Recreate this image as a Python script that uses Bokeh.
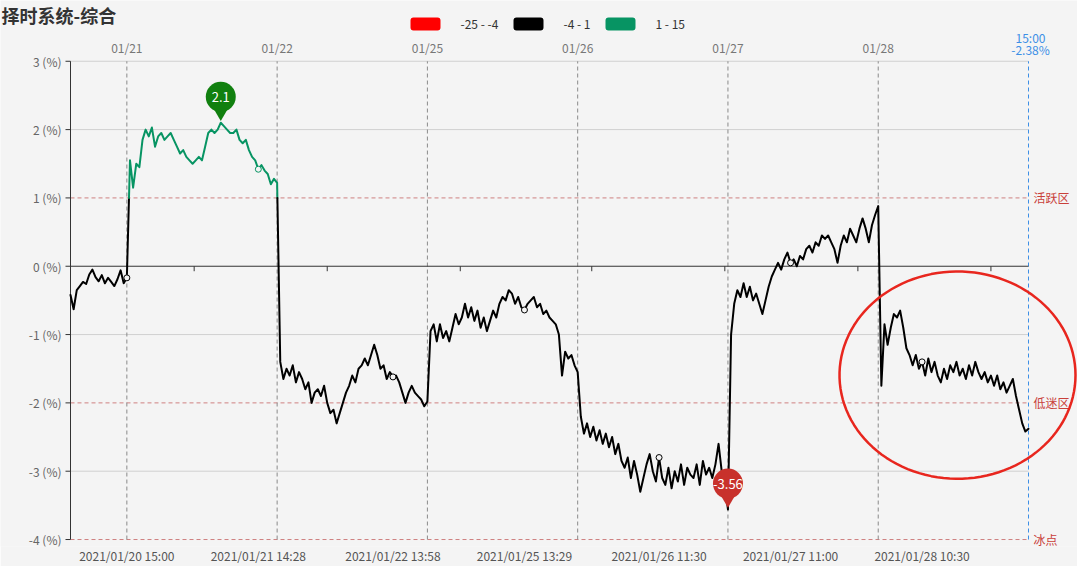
import numpy as np
from bokeh.plotting import figure
from bokeh.models import (Range1d, FixedTicker, PolyAnnotation, BoxAnnotation)
from bokeh.embed import file_html
from bokeh.resources import INLINE
from bokeh.core.properties import value

# ---------------- data ----------------
title_text = "择时系统-综合"
legend_texts = ["-25 - -4", "-4 - 1", "1 - 15"]
legend_colors = ["#ff0000", "#000000", "#079463"]
piece_bounds = [(-25, -4), (-4, 1), (1, 15)]
day_labels = ["01/21", "01/22", "01/25", "01/26", "01/27", "01/28"]
end_time = "15:00"
bottom_labels = ["2021/01/20 15:00", "2021/01/21 14:28", "2021/01/22 13:58",
                 "2021/01/25 13:29", "2021/01/26 11:30", "2021/01/27 11:00",
                 "2021/01/28 10:30"]
bottom_tick_idx = [18, 60, 103, 145, 188, 230, 272]
zero_tick_idx = [39.5, 82, 124.5, 166.5, 209, 251.5, 294]
zone_levels = [1, -2, -4]
zone_names = ["活跃区", "低迷区", "冰点"]
y_ticks = [3, 2, 1, 0, -1, -2, -3, -4]
grid_levels = [3, 2, -1, -3]

day_0120 = [-0.42, -0.63, -0.35, -0.29, -0.23, -0.26, -0.12, -0.05, -0.16, -0.22,
            -0.13, -0.25, -0.17, -0.23, -0.29, -0.19, -0.06, -0.25, -0.17]
day_0121 = [1.55, 1.15, 1.5, 1.45, 1.85, 2.0, 1.9, 2.03, 1.75, 1.9,
            1.95, 1.85, 1.9, 1.95, 1.85, 1.75, 1.65, 1.7, 1.6, 1.55,
            1.5, 1.55, 1.6, 1.55, 1.75, 1.95, 2.0, 1.95, 2.0, 2.1,
            2.05, 2.0, 1.95, 1.95, 2.0, 1.85, 1.8, 1.85, 1.7, 1.6,
            1.55, 1.42, 1.48, 1.4, 1.35, 1.2, 1.28, 1.22]
day_0122 = [-1.4, -1.65, -1.5, -1.6, -1.45, -1.7, -1.55, -1.65, -1.8, -1.7,
            -2.0, -1.85, -1.8, -1.9, -1.75, -2.0, -2.15, -2.1, -2.3, -2.15,
            -2.0, -1.85, -1.75, -1.6, -1.7, -1.5, -1.45, -1.35, -1.45, -1.3,
            -1.15, -1.3, -1.5, -1.45, -1.65, -1.55, -1.62, -1.6, -1.7, -1.85,
            -2.0, -1.85, -1.75, -1.85, -1.9, -1.95, -2.05, -1.98]
day_0125 = [-0.95, -0.85, -1.1, -0.85, -1.05, -0.95, -1.1, -0.9, -0.7, -0.85,
            -0.75, -0.55, -0.75, -0.6, -0.8, -0.65, -0.9, -0.75, -0.95, -0.8,
            -0.65, -0.75, -0.55, -0.45, -0.5, -0.35, -0.4, -0.55, -0.45, -0.6,
            -0.64, -0.55, -0.5, -0.45, -0.6, -0.55, -0.7, -0.65, -0.75, -0.8,
            -0.85, -1.0, -1.6, -1.25, -1.35, -1.3, -1.45, -1.55]
day_0126 = [-2.2, -2.45, -2.3, -2.5, -2.35, -2.55, -2.4, -2.6, -2.45, -2.65,
            -2.5, -2.75, -2.6, -2.85, -2.95, -2.8, -3.1, -2.85, -3.05, -3.3,
            -3.1, -2.9, -2.75, -3.0, -3.15, -2.8, -3.1, -3.2, -2.95, -3.25,
            -3.0, -3.15, -2.9, -3.2, -2.95, -3.05, -3.1, -2.9, -3.2, -2.85,
            -3.05, -2.95, -3.1, -2.9, -2.6, -3.0, -3.2, -3.56]
day_0127 = [-1.0, -0.55, -0.35, -0.45, -0.25, -0.45, -0.3, -0.5, -0.4, -0.55,
            -0.7, -0.5, -0.3, -0.15, -0.05, 0.05, -0.05, 0.1, 0.2, 0.05,
            0.1, 0.0, 0.15, 0.1, 0.25, 0.3, 0.2, 0.35, 0.3, 0.45,
            0.4, 0.45, 0.35, 0.25, 0.05, 0.3, 0.45, 0.35, 0.55, 0.45,
            0.35, 0.55, 0.7, 0.55, 0.35, 0.6, 0.75, 0.88]
day_0128 = [-1.75, -0.85, -1.15, -0.9, -0.7, -0.75, -0.65, -0.9, -1.2, -1.3,
            -1.45, -1.3, -1.5, -1.4, -1.6, -1.35, -1.55, -1.4, -1.6, -1.7,
            -1.5, -1.65, -1.45, -1.55, -1.4, -1.6, -1.5, -1.65, -1.45, -1.6,
            -1.4, -1.55, -1.65, -1.55, -1.7, -1.6, -1.75, -1.6, -1.8, -1.7,
            -1.85, -1.75, -1.65, -1.9, -2.1, -2.3, -2.42, -2.38]

days = [day_0120, day_0121, day_0122, day_0125, day_0126, day_0127, day_0128]
vals = np.concatenate([np.array(d, dtype=float) for d in days])
n = len(vals)
idx = np.arange(n)
bounds = [int(b) for b in (np.cumsum([len(d) for d in days])[:-1] - 1)]

# ---------------- layout (pixel -> data helpers) ----------------
W, H = 1077, 566
PL, PR, PT, PB = 70, 1028, 61, 541     # plotting area in page pixels
FRAME_B = 548                          # bottom of drawing frame (page px)
def px_x(px):
    return (np.asarray(px, dtype=float) - PL) / (PR - PL) * (n - 1)
def px_y(py):
    return 3 - (np.asarray(py, dtype=float) - PT) / (PB - PT) * 7
DX = (n - 1) / (PR - PL)
DY = 7 / (PB - PT)

FONT = "Noto Sans CJK SC"
F = value(FONT)

p = figure(width=W, height=H, output_backend="svg", toolbar_location=None,
           x_range=Range1d(float(px_x(0)), float(px_x(W))),
           y_range=Range1d(float(px_y(FRAME_B)), float(px_y(0))),
           y_axis_location=None,
           min_border_left=0, min_border_right=0, min_border_top=0,
           min_border_bottom=H - FRAME_B,
           background_fill_color="#f4f4f4", border_fill_color="#f4f4f4",
           outline_line_color=None)
p.grid.visible = False

# bottom axis (time labels)
xa = p.xaxis[0]
xa.ticker = FixedTicker(ticks=bottom_tick_idx)
xa.major_label_overrides = {t: l for t, l in zip(bottom_tick_idx, bottom_labels)}
xa.axis_line_color = None
xa.major_tick_line_color = None
xa.major_tick_out = 0
xa.major_tick_in = 0
xa.minor_tick_line_color = None
xa.major_label_text_color = "#555555"
xa.major_label_text_font = FONT
xa.major_label_text_font_size = "12px"
xa.major_label_standoff = 0

# horizontal grid lines
p.segment(x0=0, x1=n - 1, y0=grid_levels, y1=grid_levels,
          line_color="#d0d0d0", line_width=1)
# zone lines
p.segment(x0=0, x1=n - 1, y0=zone_levels, y1=zone_levels,
          line_color="#cf8080", line_width=1, line_dash="4 3")
p.text(x=float(px_x(PR + 5)), y=zone_levels, text=zone_names, text_align="left",
       text_baseline="middle", text_color="#c9403a", text_font=F,
       text_font_size="12px")
# vertical day separators
p.segment(x0=bounds, x1=bounds, y0=-4, y1=3, line_color="#8a8a8a",
          line_width=1, line_dash="4 3")
p.segment(x0=[n - 1], x1=[n - 1], y0=-4, y1=3, line_color="#3d8fe6",
          line_width=1, line_dash="4 3")
# zero line with its ticks
p.segment(x0=[0], x1=[n - 1], y0=[0], y1=[0], line_color="#333333", line_width=1)
p.segment(x0=zero_tick_idx, x1=zero_tick_idx, y0=0, y1=-5 * DY,
          line_color="#333333", line_width=1)

# left value axis
p.segment(x0=[0], x1=[0], y0=[-4], y1=[3], line_color="#333333", line_width=1)
p.segment(x0=-5 * DX, x1=0, y0=y_ticks, y1=y_ticks, line_color="#333333", line_width=1)
p.text(x=-9 * DX, y=y_ticks, text=[f"{t} (%)" for t in y_ticks], text_align="right",
       text_baseline="middle", text_color="#666666", text_font=F,
       text_font_size="12px")

# top day labels
p.text(x=bounds, y=float(px_y(47)), text=day_labels, text_align="center",
       text_baseline="middle", text_color="#777777", text_font=F,
       text_font_size="12px")
# end-of-series label
p.text(x=[n - 1 + 2 * DX] * 2, y=[float(px_y(37)), float(px_y(49))],
       text=[end_time, f"{vals[-1]:.2f}%"], text_align="center",
       text_baseline="middle", text_color="#3d8fe6", text_font=F,
       text_font_size="12px")

# title
p.text(x=[float(px_x(1))], y=[float(px_y(15))], text=[title_text], text_align="left",
       text_baseline="middle", text_color="#333333", text_font=F,
       text_font_size="18px", text_font_style="bold")

# legend
leg_rect_left = [410, 513, 605]
for (txt, col, lx) in zip(legend_texts, legend_colors, leg_rect_left):
    p.add_layout(BoxAnnotation(left=float(px_x(lx)), right=float(px_x(lx + 30)),
                               top=float(px_y(17)), bottom=float(px_y(30)),
                               fill_color=col, fill_alpha=1, line_color=None,
                               border_radius=3))
    p.text(x=[float(px_x(lx + 50))], y=[float(px_y(23.5))], text=[txt],
           text_align="left", text_baseline="middle", text_color="#333333",
           text_font=F, text_font_size="12px")

# ---------------- line coloured by piece ----------------
def piece_color(v):
    for (lo, hi), c in zip(piece_bounds, legend_colors):
        if lo <= v <= hi:
            return c
    return "#000000"

cuts = [1.0, -4.0]
polys = []
for i in range(n - 1):
    x0, y0, x1, y1 = float(idx[i]), vals[i], float(idx[i + 1]), vals[i + 1]
    pts = [(x0, y0)]
    ts = [(c - y0) / (y1 - y0) for c in cuts if (y0 - c) * (y1 - c) < 0]
    for t in sorted(ts):
        pts.append((x0 + t * (x1 - x0), y0 + t * (y1 - y0)))
    pts.append((x1, y1))
    for a, b in zip(pts[:-1], pts[1:]):
        col = piece_color((a[1] + b[1]) / 2)
        if polys and polys[-1][0] == col and polys[-1][1][-1] == a[0] and polys[-1][2][-1] == a[1]:
            polys[-1][1].append(float(b[0])); polys[-1][2].append(float(b[1]))
        else:
            polys.append((col, [float(a[0]), float(b[0])], [float(a[1]), float(b[1])]))

p.multi_line(xs=[q[1] for q in polys], ys=[q[2] for q in polys],
             line_color=[q[0] for q in polys], line_width=2,
             line_join="round", line_cap="round")

# hollow symbols at labelled points
sym_i = [int(round(t)) for t in bottom_tick_idx]
p.scatter(x=sym_i, y=[float(vals[i]) for i in sym_i], marker="circle", size=6,
          fill_color="#f4f4f4", line_color=[piece_color(vals[i]) for i in sym_i],
          line_width=1)

# ---------------- pins ----------------
imax, imin = int(np.argmax(vals)), int(np.argmin(vals))
for i, col in ((imax, "#11800f"), (imin, "#c8312c")):
    v = float(vals[i])
    p.scatter(x=[i], y=[v + 11 * DY], marker="inverted_triangle", size=16,
              fill_color=col, line_color=None)
    p.scatter(x=[i], y=[v + 26 * DY], marker="circle", size=30,
              fill_color=col, line_color=None)
    p.text(x=[i], y=[v + 26 * DY], text=[f"{v:g}"], text_align="center",
           text_baseline="middle", text_color="white", text_font=F,
           text_font_size="13px")

# ---------------- hand drawn ellipse annotation ----------------
t = np.linspace(0, 2 * np.pi, 120)
ecx, ecy, erx, ery = 957, 376, 118, 104
p.add_layout(PolyAnnotation(xs=[float(v) for v in px_x(ecx + erx * np.cos(t))],
                            ys=[float(v) for v in px_y(ecy + ery * np.sin(t))],
                            fill_color=None, fill_alpha=0, line_color="#e8261e",
                            line_alpha=1, line_width=2.5))

open("out.html", "w").write(file_html(p, INLINE))
